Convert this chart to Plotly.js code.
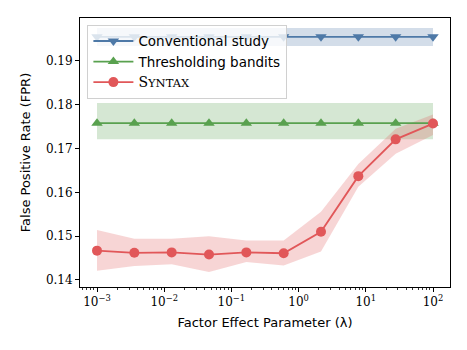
<!DOCTYPE html>
<html>
<head>
<meta charset="utf-8">
<script src="https://cdn.plot.ly/plotly-3.0.1.min.js"></script>
<style>body{margin:0;background:#fff}</style>
</head>
<body>
<div id="chart" style="width:467px;height:350px"></div>
<script>
// lambda values (log-spaced, 10 points)
const lambdas = [0.001, 0.003594, 0.01292, 0.04642, 0.1668, 0.5995, 2.154, 7.743, 27.83, 100];

const convMean = [0.1955, 0.1955, 0.1955, 0.1955, 0.1955, 0.1955, 0.1955, 0.1955, 0.1955, 0.1955];
const convLow  = [0.1934, 0.1934, 0.1934, 0.1934, 0.1934, 0.1934, 0.1934, 0.1934, 0.1934, 0.1934];
const convHigh = [0.1975, 0.1975, 0.1975, 0.1975, 0.1975, 0.1975, 0.1975, 0.1975, 0.1975, 0.1975];

const tbMean = [0.1758, 0.1758, 0.1758, 0.1758, 0.1758, 0.1758, 0.1758, 0.1758, 0.1758, 0.1758];
const tbLow  = [0.1721, 0.1721, 0.1721, 0.1721, 0.1721, 0.1721, 0.1721, 0.1721, 0.1721, 0.1721];
const tbHigh = [0.1804, 0.1804, 0.1804, 0.1804, 0.1804, 0.1804, 0.1804, 0.1804, 0.1804, 0.1804];

const synMean = [0.1467, 0.1462, 0.1463, 0.1458, 0.1463, 0.1461, 0.1510, 0.1637, 0.1721, 0.1757];
const synLow  = [0.1421, 0.1432, 0.1436, 0.1418, 0.1441, 0.1433, 0.1465, 0.1613, 0.1688, 0.1731];
const synHigh = [0.1514, 0.1494, 0.1494, 0.1500, 0.1490, 0.1490, 0.1556, 0.1665, 0.1745, 0.1778];

const xTickVals = [0.001, 0.01, 0.1, 1, 10, 100];
const xTickText = ['10<sup>−3</sup>', '10<sup>−2</sup>', '10<sup>−1</sup>', '10<sup>0</sup>', '10<sup>1</sup>', '10<sup>2</sup>'];
const yTickVals = [0.14, 0.15, 0.16, 0.17, 0.18, 0.19];

const blue = '#4e79a7', green = '#59a14f', red = '#e15759';

// minor tick positions 2..9 of each decade
const minorVals = [];
for (let e = -4; e <= 2; e++) for (let m = 2; m <= 9; m++) minorVals.push(m * Math.pow(10, e));

function band(low, high, color) {
    return [
        { x: lambdas, y: low, mode: 'lines', line: { width: 0 }, showlegend: false, hoverinfo: 'skip' },
        { x: lambdas, y: high, mode: 'lines', line: { width: 0 }, fill: 'tonexty',
          fillcolor: color, showlegend: false, hoverinfo: 'skip' }
    ];
}

const data = [
    ...band(convLow, convHigh, 'rgba(78,121,167,0.25)'),
    ...band(tbLow, tbHigh, 'rgba(89,161,79,0.25)'),
    ...band(synLow, synHigh, 'rgba(225,87,89,0.25)'),
    { x: lambdas, y: convMean, mode: 'lines+markers', name: 'Conventional study', legendgroup: 'a',
      line: { color: blue, width: 1.8 }, marker: { symbol: 'triangle-down', size: 10, color: blue } },
    { x: lambdas, y: tbMean, mode: 'lines+markers', name: 'Thresholding bandits', legendgroup: 'b',
      line: { color: green, width: 1.8 }, marker: { symbol: 'triangle-up', size: 10, color: green } },
    { x: lambdas, y: synMean, mode: 'lines+markers', legendgroup: 'c',
      name: '<span style="font-family:DejaVu Serif;font-size:14px">S<span style="font-size:11.5px">YNTAX</span></span>',
      line: { color: red, width: 1.8 }, marker: { symbol: 'circle', size: 10, color: red } }
];

const layout = {
    width: 467, height: 350,
    margin: { l: 80, r: 17, t: 18, b: 63 },
    paper_bgcolor: '#fff', plot_bgcolor: '#fff',
    font: { family: 'DejaVu Sans', size: 13, color: '#000' },
    showlegend: true,
    legend: {
        x: 0.02, y: 0.975, xanchor: 'left', yanchor: 'top', traceorder: 'normal',
        bgcolor: 'rgba(255,255,255,0.8)', bordercolor: '#d0d0d0', borderwidth: 1,
        font: { family: 'DejaVu Sans', size: 13.5 }, tracegroupgap: 3, itemwidth: 40
    },
    xaxis: {
        type: 'log', range: [-3.253, 2.253],
        tickmode: 'array', tickvals: xTickVals, ticktext: xTickText,
        ticks: 'outside', ticklen: 4, tickwidth: 1, tickcolor: '#000',
        minor: { tickmode: 'array', tickvals: minorVals, ticks: 'outside', ticklen: 2,
                 tickwidth: 0.8, tickcolor: '#000', showgrid: false },
        showgrid: false, zeroline: false,
        showline: true, mirror: true, linecolor: '#000', linewidth: 1,
        tickfont: { family: 'DejaVu Serif', size: 12 },
        title: { text: 'Factor Effect Parameter (λ)', font: { size: 13 }, standoff: 9 }
    },
    yaxis: {
        range: [0.1384, 0.1998],
        tickmode: 'array', tickvals: yTickVals, ticktext: yTickVals.map(v => v.toFixed(2)),
        ticks: 'outside', ticklen: 4, tickwidth: 1, tickcolor: '#000',
        showgrid: false, zeroline: false,
        showline: true, mirror: true, linecolor: '#000', linewidth: 1,
        tickfont: { family: 'DejaVu Serif', size: 12 },
        title: { text: 'False Positive Rate (FPR)', font: { size: 13 }, standoff: 12 }
    }
};

Plotly.newPlot('chart', data, layout, { displayModeBar: false, staticPlot: true });
</script>
</body>
</html>
